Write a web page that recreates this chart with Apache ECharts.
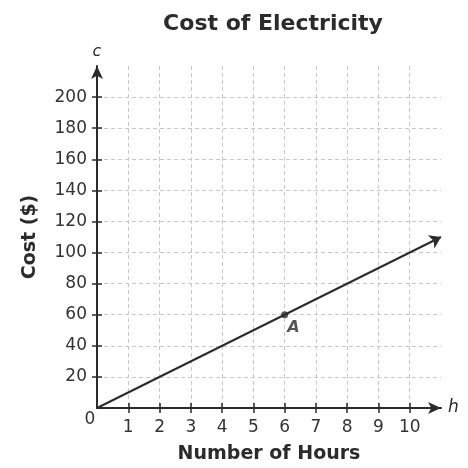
<!DOCTYPE html>
<html>
<head>
<meta charset="utf-8">
<script src="https://cdn.jsdelivr.net/npm/echarts@6/dist/echarts.min.js"></script>
<style>
  html, body { margin: 0; padding: 0; background: #fff; }
  #chart-container { width: 468px; height: 468px; }
</style>
</head>
<body>
<div id="chart-container"></div>
<script>
var lineHours = [0, 11];
var lineCost = [0, 110];
var pointA = [6, 60];
var pointName = "A";
var xTicks = [1, 2, 3, 4, 5, 6, 7, 8, 9, 10];
var yTicks = [20, 40, 60, 80, 100, 120, 140, 160, 180, 200];
var xMax = 11;
var yMax = 220;

var font = "DejaVu Sans";
var ink = "#2b2b2b";

var dom = document.getElementById("chart-container");
var myChart = echarts.init(dom, null, { renderer: "canvas" });

// a second, bare axis on each side only draws the inner half of the ticks
function innerTicks(max, interval, ticks) {
  return {
    type: "value",
    min: 0,
    max: max,
    interval: interval,
    position: undefined,
    axisLine: { show: false, onZero: false },
    axisTick: { show: true, inside: true, length: 5, customValues: ticks, lineStyle: { color: ink, width: 1.5 } },
    axisLabel: { show: false },
    splitLine: { show: false }
  };
}

var xInner = innerTicks(xMax, 1, xTicks);
xInner.position = "bottom";
var yInner = innerTicks(yMax, 20, yTicks);
yInner.position = "left";

var option = {
  animation: false,
  title: {
    text: "Cost of Electricity",
    left: 268,
    top: 8,
    textAlign: "center",
    textStyle: { fontFamily: font, fontSize: 22, fontWeight: "bold", color: ink }
  },
  grid: { left: 97, right: 27, top: 66, bottom: 60, outerBoundsMode: "none" },
  xAxis: [{
    type: "value",
    min: 0,
    max: xMax,
    interval: 1,
    name: "Number of Hours",
    nameLocation: "middle",
    nameGap: 37,
    nameTextStyle: { fontFamily: font, fontSize: 19, fontWeight: "bold", color: ink },
    axisLine: {
      onZero: false,
      lineStyle: { color: ink, width: 2 },
      symbol: ["none", "arrow"],
      symbolSize: [9, 13]
    },
    axisTick: { show: true, length: 5, customValues: xTicks, lineStyle: { color: ink, width: 1.5 } },
    axisLabel: {
      fontFamily: font, fontSize: 17, color: "#333", margin: 11,
      customValues: xTicks
    },
    splitLine: { show: true, lineStyle: { color: "#c8c8c8", type: [4, 3], width: 1 } }
  }, xInner],
  yAxis: [{
    type: "value",
    min: 0,
    max: yMax,
    interval: 20,
    name: "Cost ($)",
    nameLocation: "middle",
    nameGap: 57,
    nameRotate: 90,
    nameTextStyle: { fontFamily: font, fontSize: 19, fontWeight: "bold", color: ink },
    axisLine: {
      onZero: false,
      lineStyle: { color: ink, width: 2 },
      symbol: ["none", "arrow"],
      symbolSize: [9, 13]
    },
    axisTick: { show: true, length: 5, customValues: yTicks, lineStyle: { color: ink, width: 1.5 } },
    axisLabel: {
      fontFamily: font, fontSize: 17, color: "#333", margin: 10,
      customValues: yTicks
    },
    splitLine: { show: true, lineStyle: { color: "#c8c8c8", type: [4, 3], width: 1 } }
  }, yInner],
  series: [
    {
      type: "lines",
      coordinateSystem: "cartesian2d",
      symbol: ["none", "arrow"],
      symbolSize: 11,
      lineStyle: { color: ink, width: 2, opacity: 1 },
      data: [{ coords: [[lineHours[0], lineCost[0]], [lineHours[1], lineCost[1]]] }],
      z: 5
    },
    {
      type: "scatter",
      symbolSize: 7,
      itemStyle: { color: ink },
      label: {
        show: true,
        position: [6, 9],
        formatter: pointName,
        fontFamily: font, fontSize: 16, fontWeight: "bold", fontStyle: "italic", color: ink
      },
      data: [pointA],
      z: 6
    }
  ]
};

myChart.setOption(option);

var origin = myChart.convertToPixel({ gridIndex: 0 }, [0, 0]);
var xEnd = myChart.convertToPixel({ gridIndex: 0 }, [xMax, 0]);
var yEnd = myChart.convertToPixel({ gridIndex: 0 }, [0, yMax]);
myChart.setOption({
  graphic: [
    {
      type: "text", x: origin[0] - 7, y: origin[1] + 12,
      style: { text: "0", font: "17px " + font, fill: "#333", align: "center", verticalAlign: "middle" }
    },
    {
      type: "text", x: xEnd[0] + 7, y: xEnd[1],
      style: { text: "h", font: "italic 17px " + font, fill: ink, verticalAlign: "middle" }
    },
    {
      type: "text", x: yEnd[0], y: yEnd[1] - 14,
      style: { text: "c", font: "italic 16px " + font, fill: ink, align: "center", verticalAlign: "middle" }
    }
  ]
});
window.addEventListener("resize", myChart.resize);
</script>
</body>
</html>
